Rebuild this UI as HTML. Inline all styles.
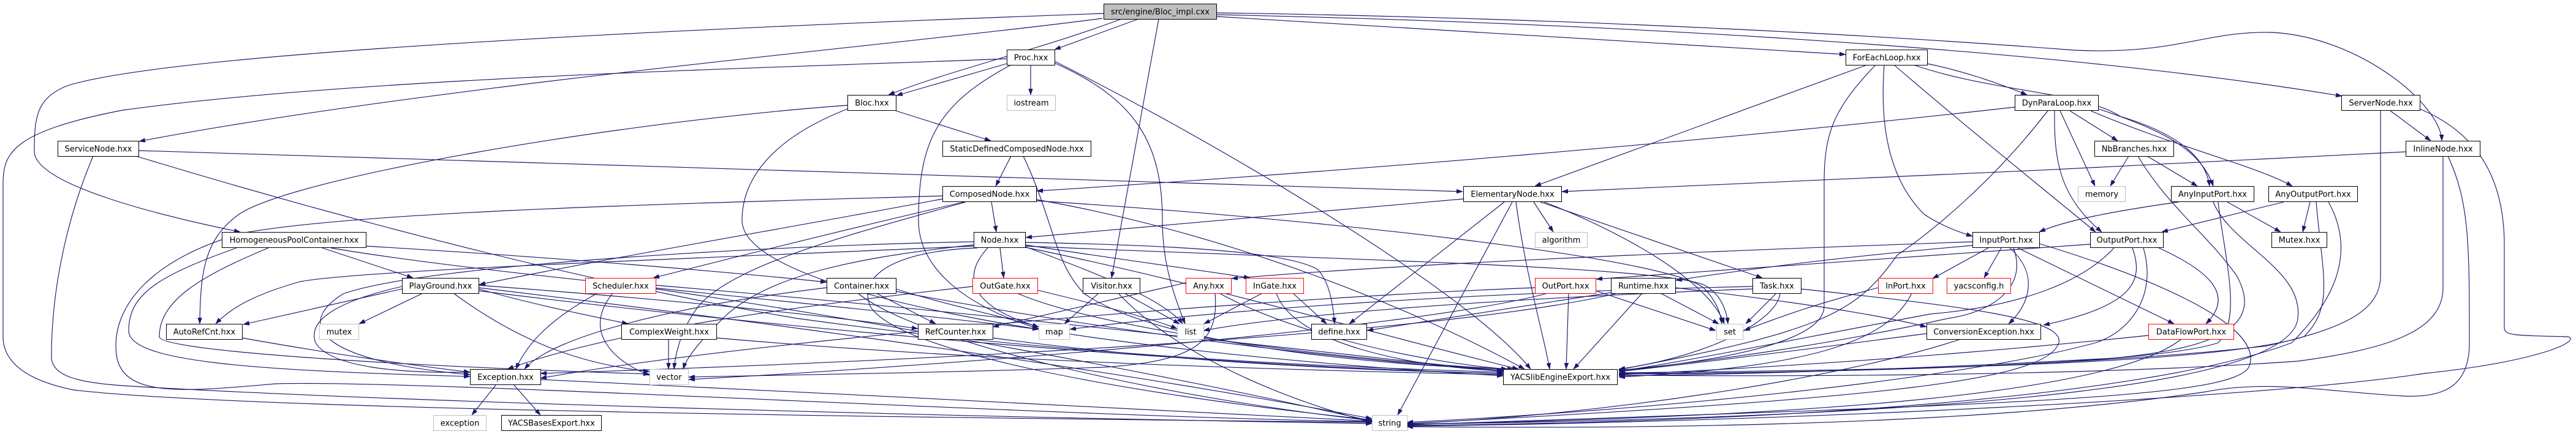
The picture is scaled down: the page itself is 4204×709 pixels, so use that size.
<!DOCTYPE html>
<html>
<head>
<meta charset="utf-8">
<style>
html,body{margin:0;padding:0;background:#fff;}
svg{display:block;}
.e{fill:none;stroke:#191970;stroke-width:1.15;marker-end:url(#ah);}
.n rect{fill:#fff;stroke:#000;stroke-width:1;}
.g rect{fill:#fff;stroke:#bfbfbf;stroke-width:1;}
.r rect{fill:#fff;stroke:#ff0000;stroke-width:1;}
text{font-family:"DejaVu Sans","Liberation Sans",sans-serif;font-size:13px;fill:#000;text-anchor:middle;}
</style>
</head>
<body>
<svg width="4204" height="709" viewBox="0 0 4204 709" xmlns="http://www.w3.org/2000/svg">
<defs>
<marker id="ah" viewBox="0 0 10 7" refX="10" refY="3.5" markerWidth="10" markerHeight="7" markerUnits="userSpaceOnUse" orient="auto">
<path d="M0,0 L10,3.5 L0,7 z" fill="#191970" stroke="#191970" stroke-width="0.5"/>
</marker>
</defs>
<rect x="0" y="0" width="4204" height="709" fill="#fff"/>
<g>
<path class="e" d="M1858,31 L1721,81"/>
<path class="e" d="M1830,31 C1700,80 1550,115 1450,155"/>
<path class="e" d="M1799,30 C1500,70 700,140 227,231"/>
<path class="e" d="M1801,22 C1300,40 300,80 110,140 C60,160 56,190 56,247 C56,300 250,350 392,379"/>
<path class="e" d="M1891,31 L1814,454"/>
<path class="e" d="M1986,27 C2400,50 2800,75 3012,89"/>
<path class="e" d="M1986,24 C2500,35 3300,70 3822,157"/>
<path class="e" d="M1986,21 C2600,30 3100,60 3385,82 C3550,90 3600,50 3708,53 C3850,60 3983,170 3985,230"/>
<path class="e" d="M1643,104 L1463,156"/>
<path class="e" d="M1682,106 L1682,155"/>
<path class="e" d="M1643,96 C1300,110 600,125 200,180 C20,215 5,250 5,300 L5,550 C5,600 60,625 120,637 C400,670 1500,682 2239,690"/>
<path class="e" d="M1650,106 C1530,170 1499,230 1499,360 C1499,430 1560,495 1695,537"/>
<path class="e" d="M1721,103 C1850,160 1897,230 1897,360 C1897,430 1915,480 1934,529"/>
<path class="e" d="M1721,100 C2000,240 2400,480 2498,603"/>
<path class="e" d="M1462,181 L1617,230"/>
<path class="e" d="M1383,172 C1000,200 480,290 390,350 C335,390 327,440 326,529"/>
<path class="e" d="M1383,178 C1250,230 1211,300 1211,360 C1211,470 1700,570 2453,614"/>
<path class="e" d="M226,246 C1000,270 2000,300 2387,313"/>
<path class="e" d="M152,255 C120,330 84,450 84,583 C84,615 130,625 200,630 C600,655 1500,680 2239,692"/>
<path class="e" d="M222,255 C600,370 1000,470 1300,520 C1800,590 2300,603 2453,608"/>
<path class="e" d="M1650,255 L1625,304"/>
<path class="e" d="M1670,255 C1720,360 1720,430 1770,480 C1900,570 2300,600 2470,603"/>
<path class="e" d="M1618,330 L1626,379"/>
<path class="e" d="M1538,325 C1300,370 1000,420 782,465"/>
<path class="e" d="M1573,330 C1400,370 1200,420 1066,454"/>
<path class="e" d="M1538,320 C1100,333 600,345 400,380 C250,420 180,500 190,580 C200,650 300,640 449,627 C700,620 1700,680 2239,689"/>
<path class="e" d="M1691,326 C2000,380 2300,500 2488,603"/>
<path class="e" d="M1691,328 C2150,357 2717,420 2780,470 C2800,490 2808,510 2810,529"/>
<path class="e" d="M1576,330 C1400,380 1200,430 1140,500 C1110,540 1102,580 1100,603"/>
<path class="e" d="M1632,405 L1638,454"/>
<path class="e" d="M1673,400 C1800,420 1950,440 2040,454"/>
<path class="e" d="M1612,405 C1570,450 1580,500 1695,534"/>
<path class="e" d="M1673,396 C1900,400 2100,410 2150,440 C2170,460 2176,500 2178,529"/>
<path class="e" d="M1673,402 C2200,425 2700,435 2780,465 C2810,480 2818,510 2820,529"/>
<path class="e" d="M1589,395 C1300,400 700,430 560,480 C480,530 520,590 767,612"/>
<path class="e" d="M1589,400 C1400,420 1250,450 1180,520 C1140,560 1120,585 1115,603"/>
<path class="e" d="M1595,405 C1460,410 1400,450 1420,500 C1460,570 1800,640 2239,686"/>
<path class="e" d="M1673,404 C1950,460 2300,560 2478,603"/>
<path class="e" d="M1673,403 C1800,450 1900,490 1930,529"/>
<path class="e" d="M1589,402 C1200,420 600,440 490,460 C420,480 380,500 352,529"/>
<path class="e" d="M526,405 L674,454"/>
<path class="e" d="M597,402 C900,420 1200,445 1349,461"/>
<path class="e" d="M386,405 C260,450 210,480 210,540 C210,590 400,605 767,615"/>
<path class="e" d="M438,405 C330,450 260,490 260,550 C260,575 700,600 1060,611"/>
<path class="e" d="M540,405 C800,450 1400,500 1695,538"/>
<path class="e" d="M656,472 L397,530"/>
<path class="e" d="M690,479 L586,529"/>
<path class="e" d="M740,479 C850,560 950,595 1060,607"/>
<path class="e" d="M781,472 C880,500 960,515 1025,529"/>
<path class="e" d="M656,468 C560,490 500,520 515,560 C540,600 650,610 767,608"/>
<path class="e" d="M781,466 C1100,490 1350,515 1498,537"/>
<path class="e" d="M781,470 C1200,520 1800,600 2239,684"/>
<path class="e" d="M781,475 C1300,540 2000,600 2453,610"/>
<path class="e" d="M975,479 C900,520 860,560 842,603"/>
<path class="e" d="M1000,479 C950,540 1000,590 1060,613"/>
<path class="e" d="M1070,472 C1400,520 1900,610 2239,688"/>
<path class="e" d="M1070,466 C1600,510 2200,580 2453,607"/>
<path class="e" d="M1430,479 L1527,529"/>
<path class="e" d="M1462,472 C1550,500 1650,520 1695,534"/>
<path class="e" d="M1349,470 C1100,500 900,550 856,603"/>
<path class="e" d="M1462,476 C1800,540 2200,590 2453,605"/>
<path class="e" d="M1400,479 C1500,560 1900,650 2239,687"/>
<path class="e" d="M1693,474 C1800,500 1880,520 1921,537"/>
<path class="e" d="M1660,479 C1800,540 2200,590 2460,603"/>
<path class="e" d="M1587,468 C1300,500 1000,540 828,603"/>
<path class="e" d="M1793,479 L1737,529"/>
<path class="e" d="M1835,479 L1925,529"/>
<path class="e" d="M1825,479 C1900,560 2050,640 2239,690"/>
<path class="e" d="M1935,462 L1620,534"/>
<path class="e" d="M1983,479 C1990,560 1950,590 1800,600 C1500,610 1300,612 1124,616"/>
<path class="e" d="M1990,479 C2100,540 2300,590 2460,603"/>
<path class="e" d="M2060,479 L1965,529"/>
<path class="e" d="M2083,479 C2110,560 2300,600 2455,606"/>
<path class="e" d="M2110,479 L2165,529"/>
<path class="e" d="M2604,475 L2800,540"/>
<path class="e" d="M2560,479 L2556,603"/>
<path class="e" d="M2505,470 C2000,490 1200,560 882,618"/>
<path class="e" d="M2526,479 C2300,540 1500,600 1124,620"/>
<path class="e" d="M2710,479 L2805,529"/>
<path class="e" d="M2629,478 L2231,540"/>
<path class="e" d="M2680,479 L2568,603"/>
<path class="e" d="M2734,470 C2900,490 3050,510 3144,534"/>
<path class="e" d="M2640,479 C2300,560 1200,600 882,610"/>
<path class="e" d="M2899,479 L2849,529"/>
<path class="e" d="M2905,479 C2902,520 2800,580 2642,603"/>
<path class="e" d="M2860,472 C2400,490 2100,515 1964,540"/>
<path class="e" d="M2860,468 C2400,478 2000,505 1746,538"/>
<path class="e" d="M2939,472 C3200,500 3370,520 3360,560 C3340,620 3100,650 2296,692"/>
<path class="e" d="M3065,470 C2950,500 2900,520 2846,540"/>
<path class="e" d="M3120,479 C3080,560 2950,600 2642,616"/>
<path class="e" d="M3219,395 C2800,410 2300,430 2010,455"/>
<path class="e" d="M3219,401 C3000,420 2850,440 2735,458"/>
<path class="e" d="M3245,405 L3154,455"/>
<path class="e" d="M3266,405 L3238,454"/>
<path class="e" d="M3293,405 L3548,529"/>
<path class="e" d="M3280,405 C3330,450 3310,500 3278,529"/>
<path class="e" d="M3286,405 C3310,470 3250,510 3180,520 C3000,560 2800,590 2642,605"/>
<path class="e" d="M3328,398 C3500,450 3700,530 3670,600 C3640,650 3300,660 2296,694"/>
<path class="e" d="M3480,405 C3500,460 3480,500 3335,531"/>
<path class="e" d="M3523,405 C3600,440 3650,480 3600,529"/>
<path class="e" d="M3411,399 C3100,420 2800,440 2605,456"/>
<path class="e" d="M3450,405 C3400,460 3300,500 3150,513 C2900,560 2700,600 2642,606"/>
<path class="e" d="M3498,405 C3520,480 3480,540 3420,560 C3200,620 2700,670 2296,690"/>
<path class="e" d="M3555,330 C3450,345 3370,360 3328,379"/>
<path class="e" d="M3635,330 L3722,379"/>
<path class="e" d="M3620,330 C3630,420 3660,520 3620,560 C3500,600 2900,610 2642,610"/>
<path class="e" d="M3612,330 C3640,400 3760,440 3750,520 C3740,620 3300,680 2296,693"/>
<path class="e" d="M3727,330 L3528,379"/>
<path class="e" d="M3770,330 L3758,379"/>
<path class="e" d="M3780,330 C3790,450 3810,500 3760,550 C3600,600 3000,605 2642,609"/>
<path class="e" d="M3800,330 C3850,420 3800,500 3740,560 C3500,650 2900,690 2296,695"/>
<path class="e" d="M2388,325 C2100,350 1800,375 1674,388"/>
<path class="e" d="M2503,330 L2535,379"/>
<path class="e" d="M2514,330 L2876,454"/>
<path class="e" d="M2455,330 L2202,529"/>
<path class="e" d="M2468,330 L2281,678"/>
<path class="e" d="M2474,330 C2490,450 2520,550 2529,603"/>
<path class="e" d="M2520,330 C2650,380 2790,460 2814,529"/>
<path class="e" d="M3144,545 C2950,570 2800,590 2642,607"/>
<path class="e" d="M3200,554 C3000,620 2600,680 2296,692"/>
<path class="e" d="M3506,548 C3200,580 2900,600 2642,612"/>
<path class="e" d="M3560,554 C3450,640 3000,680 2296,693"/>
<path class="e" d="M1620,552 C1900,590 2200,605 2453,610"/>
<path class="e" d="M1091,554 L1091,603"/>
<path class="e" d="M1169,552 C1600,590 2100,605 2453,612"/>
<path class="e" d="M395,552 C550,580 700,600 767,608"/>
<path class="e" d="M810,628 L770,678"/>
<path class="e" d="M838,628 L882,678"/>
<path class="e" d="M882,620 C1300,640 1900,670 2239,688"/>
<path class="e" d="M3047,106 L2505,304"/>
<path class="e" d="M3061,106 C2990,180 2977,220 2977,300 L2977,500 C2977,560 2800,590 2642,606"/>
<path class="e" d="M3075,106 C3068,200 3080,290 3140,350 C3170,370 3200,380 3219,386"/>
<path class="e" d="M3091,106 C3200,200 3300,280 3420,379"/>
<path class="e" d="M3145,104 C3200,115 3260,135 3308,155"/>
<path class="e" d="M3123,106 C3250,150 3400,150 3460,190 C3560,220 3600,260 3606,304"/>
<path class="e" d="M3288,175 C2800,230 2200,280 1692,312"/>
<path class="e" d="M3378,181 L3456,230"/>
<path class="e" d="M3362,181 L3419,304"/>
<path class="e" d="M3425,178 C3520,210 3590,240 3612,304"/>
<path class="e" d="M3412,181 C3550,240 3680,270 3741,304"/>
<path class="e" d="M3353,181 C3352,260 3360,320 3430,379"/>
<path class="e" d="M3342,181 C3250,300 3150,380 3096,417 C3030,510 2980,540 2642,604"/>
<path class="e" d="M3901,181 L3967,230"/>
<path class="e" d="M3885,181 L3885,450 C3885,510 3822,537 3700,565 C3400,600 2900,610 2642,611"/>
<path class="e" d="M3949,178 C4050,220 4087,300 4087,400 L4087,535 C4087,548 4100,548 4190,550 C4215,555 4150,590 3957,610 C3700,650 2900,690 2296,696"/>
<path class="e" d="M3474,255 L3444,304"/>
<path class="e" d="M3504,255 L3586,304"/>
<path class="e" d="M3489,255 C3540,340 3600,380 3650,450 C3700,540 3600,570 3450,585 C3100,605 2800,612 2642,614"/>
<path class="e" d="M3926,248 C3500,270 2900,300 2549,313"/>
<path class="e" d="M3987,255 L3987,470 C3987,540 3900,570 3750,590 C3400,615 2900,615 2642,613"/>
<path class="e" d="M3995,255 C4030,330 4030,400 4030,560 C4030,630 3990,650 3923,647 C3800,640 3700,620 3600,640 C3200,700 2600,700 2296,697"/>
</g>
<g>
<g class="n"><rect x="1801.5" y="6.5" width="184" height="25" style="fill:#bfbfbf"/><text x="1893.5" y="23.5">src/engine/Bloc_impl.cxx</text></g>
<g class="n"><rect x="1643.5" y="81.5" width="78" height="25"/><text x="1682.5" y="98.5">Proc.hxx</text></g>
<g class="n"><rect x="3012.5" y="81.5" width="133" height="25"/><text x="3079" y="98.5">ForEachLoop.hxx</text></g>
<g class="n"><rect x="1383.5" y="155.5" width="79" height="25"/><text x="1423" y="172.5">Bloc.hxx</text></g>
<g class="g"><rect x="1643.5" y="155.5" width="79" height="25"/><text x="1683" y="172.5">iostream</text></g>
<g class="n"><rect x="3288.5" y="155.5" width="136" height="25"/><text x="3356.5" y="172.5">DynParaLoop.hxx</text></g>
<g class="n"><rect x="3821.5" y="155.5" width="128" height="25"/><text x="3885.5" y="172.5">ServerNode.hxx</text></g>
<g class="n"><rect x="94.5" y="230.5" width="132" height="25"/><text x="160.5" y="247.5">ServiceNode.hxx</text></g>
<g class="n"><rect x="1538.5" y="230.5" width="242" height="25"/><text x="1659.5" y="247.5">StaticDefinedComposedNode.hxx</text></g>
<g class="n"><rect x="3418.5" y="230.5" width="129" height="25"/><text x="3483" y="247.5">NbBranches.hxx</text></g>
<g class="n"><rect x="3926.5" y="230.5" width="121" height="25"/><text x="3987" y="247.5">InlineNode.hxx</text></g>
<g class="n"><rect x="1538.5" y="304.5" width="153" height="25"/><text x="1615" y="321.5">ComposedNode.hxx</text></g>
<g class="n"><rect x="2388.5" y="304.5" width="160" height="25"/><text x="2468.5" y="321.5">ElementaryNode.hxx</text></g>
<g class="g"><rect x="3391.5" y="304.5" width="77" height="25"/><text x="3430" y="321.5">memory</text></g>
<g class="n"><rect x="3543.5" y="304.5" width="135" height="25"/><text x="3611" y="321.5">AnyInputPort.hxx</text></g>
<g class="n"><rect x="3702.5" y="304.5" width="145" height="25"/><text x="3775" y="321.5">AnyOutputPort.hxx</text></g>
<g class="n"><rect x="362.5" y="379.5" width="235" height="25"/><text x="480" y="396.5">HomogeneousPoolContainer.hxx</text></g>
<g class="n"><rect x="1589.5" y="379.5" width="84" height="25"/><text x="1631.5" y="396.5">Node.hxx</text></g>
<g class="g"><rect x="2505.5" y="379.5" width="85" height="25"/><text x="2548" y="396.5">algorithm</text></g>
<g class="n"><rect x="3219.5" y="379.5" width="109" height="25"/><text x="3274" y="396.5">InputPort.hxx</text></g>
<g class="n"><rect x="3411.5" y="379.5" width="119" height="25"/><text x="3471" y="396.5">OutputPort.hxx</text></g>
<g class="n"><rect x="3707.5" y="379.5" width="90" height="25"/><text x="3752.5" y="396.5">Mutex.hxx</text></g>
<g class="n"><rect x="656.5" y="454.5" width="125" height="25"/><text x="719" y="471.5">PlayGround.hxx</text></g>
<g class="r"><rect x="955.5" y="454.5" width="115" height="25"/><text x="1013" y="471.5">Scheduler.hxx</text></g>
<g class="n"><rect x="1349.5" y="454.5" width="113" height="25"/><text x="1406" y="471.5">Container.hxx</text></g>
<g class="r"><rect x="1587.5" y="454.5" width="106" height="25"/><text x="1640.5" y="471.5">OutGate.hxx</text></g>
<g class="n"><rect x="1767.5" y="454.5" width="93" height="25"/><text x="1814" y="471.5">Visitor.hxx</text></g>
<g class="r"><rect x="1935.5" y="454.5" width="74" height="25"/><text x="1972.5" y="471.5">Any.hxx</text></g>
<g class="r"><rect x="2033.5" y="454.5" width="94" height="25"/><text x="2080.5" y="471.5">InGate.hxx</text></g>
<g class="r"><rect x="2505.5" y="454.5" width="99" height="25"/><text x="2555" y="471.5">OutPort.hxx</text></g>
<g class="n"><rect x="2629.5" y="454.5" width="105" height="25"/><text x="2682" y="471.5">Runtime.hxx</text></g>
<g class="n"><rect x="2860.5" y="454.5" width="79" height="25"/><text x="2900" y="471.5">Task.hxx</text></g>
<g class="r"><rect x="3065.5" y="454.5" width="89" height="25"/><text x="3110" y="471.5">InPort.hxx</text></g>
<g class="r"><rect x="3177.5" y="454.5" width="104" height="25"/><text x="3229.5" y="471.5">yacsconfig.h</text></g>
<g class="n"><rect x="271.5" y="529.5" width="124" height="25"/><text x="333.5" y="546.5">AutoRefCnt.hxx</text></g>
<g class="g"><rect x="521.5" y="529.5" width="64" height="25"/><text x="553.5" y="546.5">mutex</text></g>
<g class="n"><rect x="1014.5" y="529.5" width="155" height="25"/><text x="1092" y="546.5">ComplexWeight.hxx</text></g>
<g class="n"><rect x="1498.5" y="529.5" width="122" height="25"/><text x="1559.5" y="546.5">RefCounter.hxx</text></g>
<g class="g"><rect x="1695.5" y="529.5" width="50" height="25"/><text x="1720.5" y="546.5">map</text></g>
<g class="g"><rect x="1921.5" y="529.5" width="43" height="25"/><text x="1943" y="546.5">list</text></g>
<g class="n"><rect x="2140.5" y="529.5" width="90" height="25"/><text x="2185.5" y="546.5">define.hxx</text></g>
<g class="g"><rect x="2801.5" y="529.5" width="43" height="25"/><text x="2823" y="546.5">set</text></g>
<g class="n"><rect x="3144.5" y="529.5" width="186" height="25"/><text x="3237.5" y="546.5">ConversionException.hxx</text></g>
<g class="r"><rect x="3506.5" y="529.5" width="139" height="25"/><text x="3576" y="546.5">DataFlowPort.hxx</text></g>
<g class="n"><rect x="767.5" y="603.5" width="115" height="25"/><text x="825" y="620.5">Exception.hxx</text></g>
<g class="g"><rect x="1060.5" y="603.5" width="63" height="25"/><text x="1092" y="620.5">vector</text></g>
<g class="n"><rect x="2453.5" y="603.5" width="186" height="25"/><text x="2546.5" y="620.5">YACSlibEngineExport.hxx</text></g>
<g class="g"><rect x="707.5" y="678.5" width="86" height="25"/><text x="750.5" y="695.5">exception</text></g>
<g class="n"><rect x="818.5" y="678.5" width="163" height="25"/><text x="900" y="695.5">YACSBasesExport.hxx</text></g>
<g class="g"><rect x="2239.5" y="678.5" width="57" height="25"/><text x="2268" y="695.5">string</text></g>
</g>
</svg>
</body>
</html>
